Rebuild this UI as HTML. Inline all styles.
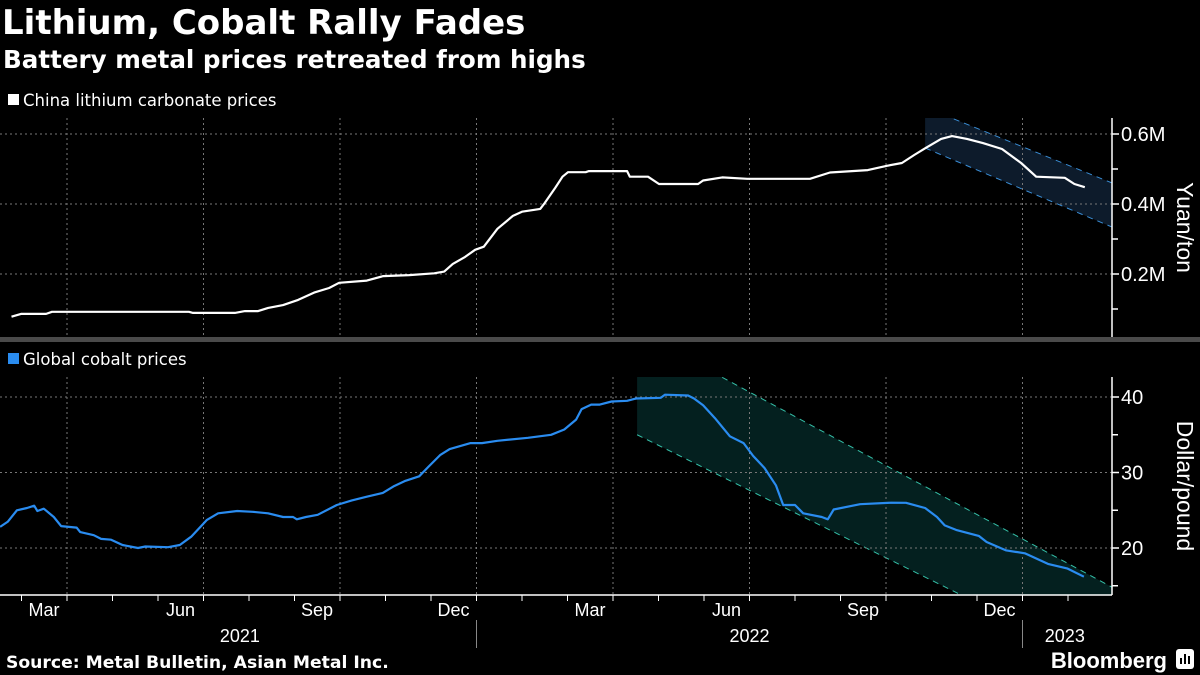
<!DOCTYPE html>
<html><head><meta charset="utf-8"><style>
html,body{margin:0;padding:0;background:#000;width:1200px;height:675px;overflow:hidden}
svg{display:block;font-family:"Liberation Sans",sans-serif}
</style></head><body>
<svg id="chart" width="1200" height="675" viewBox="0 0 1200 675" xmlns="http://www.w3.org/2000/svg">
<rect x="0" y="0" width="1200" height="675" fill="#000"/>
<text x="2" y="34" fill="#fff" font-size="34" font-weight="bold" font-family="DejaVu Sans, Liberation Sans, sans-serif">Lithium, Cobalt Rally Fades</text>
<text x="3" y="68" fill="#fff" font-size="24.6" font-weight="bold" font-family="DejaVu Sans, Liberation Sans, sans-serif">Battery metal prices retreated from highs</text>
<rect x="8" y="94" width="11" height="11" fill="#fff"/>
<text x="23" y="106" fill="#fff" font-size="16.5" font-family="DejaVu Sans, Liberation Sans, sans-serif">China lithium carbonate prices</text>
<rect x="0" y="337" width="1200" height="5" fill="#4a4a4a"/>
<rect x="8" y="353" width="11" height="11" fill="#2a8cf0"/>
<text x="23" y="365" fill="#fff" font-size="16.5" font-family="DejaVu Sans, Liberation Sans, sans-serif">Global cobalt prices</text>
<g id="topPanel"></g>
<g id="botPanel"></g>
<g id="xaxis"></g>
<text x="6" y="668" fill="#fff" font-size="17.2" font-weight="bold" font-family="DejaVu Sans, Liberation Sans, sans-serif">Source: Metal Bulletin, Asian Metal Inc.</text>
<text x="1167" y="668" fill="#fff" font-size="22" font-weight="bold" text-anchor="end">Bloomberg</text>
<rect x="1176" y="649" width="18" height="20" rx="3" fill="#fff"/>
<rect x="1180" y="658" width="2" height="6" fill="#000"/><rect x="1184" y="654" width="2" height="10" fill="#000"/><rect x="1188" y="656" width="2" height="8" fill="#000"/>
</svg>
<script>
// time in months since Jan 1 2021 (0 = Jan 2021)
const lithT = [0.78,0.99,1.54,1.67,4.68,4.77,5.69,5.91,6.2,6.42,6.75,7.08,7.43,7.76,7.98,8.59,8.95,9.52,10.07,10.29,10.48,10.75,10.97,11.16,11.46,11.8,12.0,12.4,12.5,12.73,12.89,13.01,13.4,13.47,14.31,14.37,14.77,15.01,15.87,15.98,16.4,16.95,18.33,18.77,19.6,20.02,20.35,20.62,20.86,21.21,21.45,21.78,22.13,22.55,22.97,23.3,23.93,24.14,24.37];
const lithV = [0.078,0.086,0.086,0.092,0.092,0.089,0.089,0.094,0.094,0.103,0.111,0.126,0.147,0.16,0.175,0.181,0.194,0.197,0.202,0.207,0.229,0.249,0.269,0.278,0.329,0.366,0.378,0.386,0.403,0.446,0.478,0.491,0.491,0.494,0.494,0.478,0.478,0.457,0.457,0.467,0.476,0.472,0.472,0.49,0.497,0.509,0.517,0.54,0.559,0.586,0.594,0.586,0.574,0.557,0.517,0.478,0.475,0.457,0.448];
const cobT = [0.53,0.70,0.90,1.12,1.28,1.35,1.49,1.71,1.87,2.21,2.29,2.59,2.75,2.97,3.22,3.56,3.72,4.22,4.48,4.73,5.07,5.32,5.74,6.08,6.42,6.75,6.97,7.05,7.25,7.51,7.93,8.26,8.59,8.94,9.19,9.44,9.74,9.95,10.2,10.41,10.87,11.12,11.46,12.13,12.64,12.93,13.19,13.31,13.52,13.71,13.97,14.31,14.51,15.05,15.14,15.65,15.78,15.98,16.24,16.57,16.87,17.08,17.33,17.58,17.74,18.0,18.18,18.59,18.72,18.85,19.43,20.11,20.44,20.86,21.12,21.29,21.54,22.04,22.21,22.63,23.05,23.56,23.98,24.35];
const cobV = [22.8,23.5,25.0,25.3,25.6,24.9,25.2,24.1,22.9,22.7,22.1,21.7,21.2,21.1,20.4,20.0,20.2,20.1,20.4,21.5,23.7,24.6,24.9,24.8,24.6,24.1,24.1,23.8,24.1,24.4,25.7,26.3,26.8,27.3,28.2,28.9,29.5,30.8,32.3,33.1,33.9,33.9,34.2,34.6,35.0,35.7,37.0,38.4,39.0,39.0,39.4,39.5,39.8,39.9,40.3,40.2,39.8,38.9,37.2,34.8,33.9,32.2,30.6,28.3,25.7,25.7,24.6,24.1,23.8,25.1,25.8,26.0,25.99,25.3,24.1,23.0,22.4,21.6,20.8,19.7,19.3,17.9,17.3,16.2];
const lithTicks = [0.2,0.4,0.6];
const lithTickLabels = ["0.2M","0.4M","0.6M"];
const lithMinor = [0.1,0.3,0.5];
const cobTicks = [20,30,40];
const cobTickLabels = ["20","30","40"];
const cobMinor = [15,25,35];
const gridMonths = [2,5,8,11,14,17,20,23];
const monthLabels = ["Mar","Jun","Sep","Dec","Mar","Jun","Sep","Dec"];
const tickMonths = [1,2,3,4,5,6,7,8,9,10,11,12,13,14,15,16,17,18,19,20,21,22,23,24];
const years = ["2021","2022","2023"];
const yearCenters = [5.8,17.0,23.93];
const yearBreaks = [11,23];
// trend channels [t0,v0,t1,v1]
const lithUpper = [21.49,0.643,24.97,0.46];
const lithLower = [20.86,0.56,24.97,0.334];
const cobUpper = [16.4,42.6,24.97,14.8];
const cobLower = [14.53,35.0,24.97,3.9];

const NS="http://www.w3.org/2000/svg";
const X1=1112, TEND=24.97;
const xs = t => 67 + (t-2)*45.5;
const yL = v => 344 - v*350;
const yC = v => 548 - (v-20)*7.55;
function mk(tag,attrs,parent){const e=document.createElementNS(NS,tag);for(const k in attrs)e.setAttribute(k,attrs[k]);parent.appendChild(e);return e;}
const topG=document.getElementById('topPanel'), botG=document.getElementById('botPanel'), xa=document.getElementById('xaxis');
const defs=mk('defs',{},document.getElementById('chart'));
const c1=mk('clipPath',{id:'c1'},defs); mk('rect',{x:0,y:118,width:1112,height:219},c1);
const c2=mk('clipPath',{id:'c2'},defs); mk('rect',{x:0,y:377,width:1112,height:218},c2);

function panel(g,yf,top_,bot_,ticks,labels,minor,title,T,V,color,up,lo,fill,dash,clip){
  const cg=mk('g',{'clip-path':`url(#${clip})`},g);
  const slope=(a,t)=>a[1]+(a[3]-a[1])*(t-a[0])/(a[2]-a[0]);
  const poly=[[xs(lo[0]),top_-5],[xs(up[0]),top_-5],[xs(up[0]),yf(up[1])],[xs(TEND),yf(slope(up,TEND))],[xs(TEND),yf(slope(lo,TEND))],[xs(lo[0]),yf(lo[1])]];
  const p=mk('polygon',{points:poly.map(q=>q.join(',')).join(' '),fill:fill},cg);
  
  
  gridMonths.forEach(m=>{const l=mk('line',{x1:xs(m),x2:xs(m),y1:top_,y2:bot_,stroke:'#777','stroke-width':1,'stroke-dasharray':'2,3'},g);
    
    });
  ticks.forEach((v,i)=>{const l=mk('line',{x1:0,x2:X1,y1:yf(v),y2:yf(v),stroke:'#777','stroke-width':1,'stroke-dasharray':'2,3'},g);
    
    
    const tk=mk('line',{x1:X1,x2:X1+7,y1:yf(v),y2:yf(v),stroke:'#fff','stroke-width':1.5},g);
    
    
    const t=mk('text',{x:X1+9,y:yf(v)+7,fill:'#fff','font-size':20},g);t.textContent=labels[i];
    
    });
  minor.forEach(v=>{const tk=mk('line',{x1:X1,x2:X1+6,y1:yf(v),y2:yf(v),stroke:'#fff','stroke-width':1.5},g);
    
    });
  const ax=mk('line',{x1:X1,x2:X1,y1:top_,y2:bot_,stroke:'#fff','stroke-width':1.5},g);
  
  
  const ty=(top_+bot_)/2;
  const tt=mk('text',{x:1177,y:ty,fill:'#fff','font-size':23,'text-anchor':'middle',transform:`rotate(90 1177 ${ty})`},g);tt.textContent=title;
  
  
  [up,lo].forEach(a=>{const l=mk('line',{x1:xs(a[0]),y1:yf(a[1]),x2:xs(a[2]),y2:yf(a[3]),stroke:dash,'stroke-width':1,'stroke-dasharray':'6,5'},cg);
    
    });
  const d=T.map((t,i)=>(i?'L':'M')+xs(t).toFixed(1)+','+yf(V[i]).toFixed(1)).join(' ');
  const s=mk('path',{d:d,fill:'none',stroke:color,'stroke-width':2.2,'stroke-linejoin':'round'},g);
  
  
}
panel(topG,yL,118,337,lithTicks,lithTickLabels,lithMinor,'Yuan/ton',lithT,lithV,'#fff',lithUpper,lithLower,'#0d1b2b','#3a8fd8','c1');
panel(botG,yC,377,595,cobTicks,cobTickLabels,cobMinor,'Dollar/pound',cobT,cobV,'#2a8cf0',cobUpper,cobLower,'#04201f','#35c0a8','c2');

const axl=mk('line',{x1:0,x2:X1,y1:595,y2:595,stroke:'#fff','stroke-width':1.5},xa);


tickMonths.forEach(m=>{const l=mk('line',{x1:xs(m),x2:xs(m),y1:595,y2:601,stroke:'#fff','stroke-width':1},xa);
  
  });
gridMonths.forEach((m,i)=>{const t=mk('text',{x:xs(m)-23,y:616,fill:'#fff','font-size':18,'text-anchor':'middle'},xa);t.textContent=monthLabels[i];
  
  });
years.forEach((y,i)=>{const t=mk('text',{x:xs(yearCenters[i]),y:642,fill:'#fff','font-size':18,'text-anchor':'middle'},xa);t.textContent=y;
  
  });
yearBreaks.forEach(m=>{const l=mk('line',{x1:xs(m),x2:xs(m),y1:620,y2:648,stroke:'#888','stroke-width':1},xa);
  
  });
</script>
</body></html>
